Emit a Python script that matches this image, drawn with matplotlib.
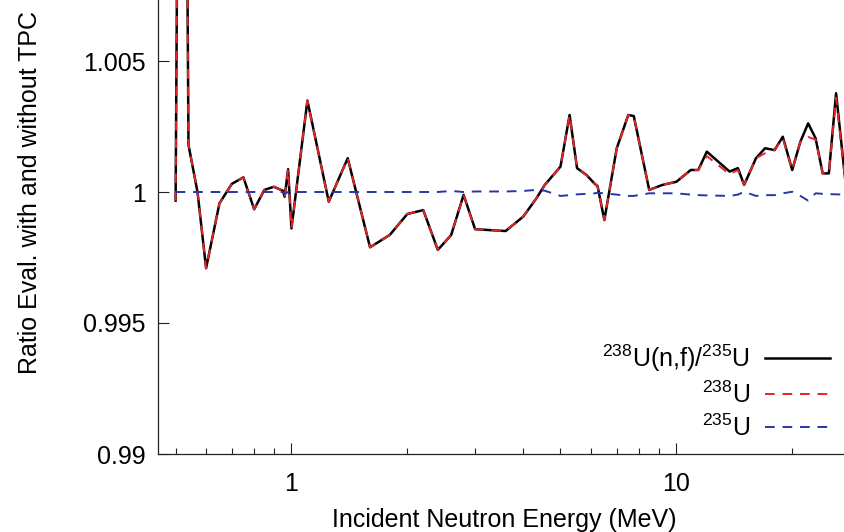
import numpy as np
import matplotlib
matplotlib.use("Agg")
import matplotlib.pyplot as plt
from matplotlib.ticker import LogLocator, FixedLocator, FixedFormatter, NullFormatter

plt.rcParams['font.family'] = ['Liberation Sans', 'DejaVu Sans']
plt.rcParams['mathtext.default'] = 'regular'

# incident neutron energy grid (MeV)
energy = [0.50, 0.52, 0.54, 0.57, 0.60, 0.65, 0.70, 0.75, 0.80, 0.85,
          0.90, 0.95, 0.96, 0.98, 1.0, 1.1, 1.25, 1.4, 1.6, 1.8,
          2.0, 2.2, 2.4, 2.6, 2.8, 3.0, 3.6, 4.0, 4.33, 4.55,
          5.0, 5.28, 5.52, 5.84, 6.14, 6.24, 6.5, 7.0, 7.5, 7.75,
          8.5, 9.2, 10.0, 10.9, 11.4, 12.0, 13.75, 14.45, 15.0, 16.1,
          17.0, 18.0, 18.9, 20.0, 21.0, 22.0, 23.0, 24.0, 24.9, 26.0,
          28.0]

# 238U(n,f)/235U ratio
ratio = [0.99967, 1.04, 1.00180, 1.00000, 0.99709, 0.99957, 1.00031, 1.00056, 0.99934, 1.00008,
         1.00020, 1.00005, 0.99982, 1.00087, 0.99861, 1.00349, 0.99963, 1.00129, 0.99789, 0.99836,
         0.99916, 0.99931, 0.99779, 0.99836, 0.99989, 0.99858, 0.99851, 0.99906, 0.99976, 1.00027,
         1.00097, 1.00294, 1.00091, 1.00065, 1.00031, 1.00023, 0.99893, 1.00167, 1.00294, 1.00290,
         1.00008, 1.00027, 1.00039, 1.00084, 1.00084, 1.00154, 1.00078, 1.00091, 1.00027, 1.00129,
         1.00167, 1.00160, 1.00211, 1.00084, 1.00192, 1.00262, 1.00205, 1.00071, 1.00071, 1.00377,
         0.99930]

# 238U
u238 = [0.99967, 1.04, 1.00180, 1.00000, 0.99709, 0.99957, 1.00031, 1.00056, 0.99934, 1.00008,
        1.00020, 1.00005, 0.99982, 1.00087, 0.99861, 1.00349, 0.99963, 1.00129, 0.99789, 0.99836,
        0.99916, 0.99931, 0.99779, 0.99836, 0.99989, 0.99858, 0.99851, 0.99906, 0.99976, 1.00027,
        1.00097, 1.00294, 1.00091, 1.00065, 1.00031, 1.00023, 0.99893, 1.00167, 1.00294, 1.00290,
        1.00008, 1.00027, 1.00039, 1.00084, 1.00084, 1.00137, 1.00068, 1.00084, 1.00027, 1.00129,
        1.00148, 1.00160, 1.00205, 1.00084, 1.00192, 1.00210, 1.00200, 1.00071, 1.00071, 1.00360,
        0.99930]

# 235U
u235 = [1.00000, 1.00000, 1.00000, 1.00000, 1.00000, 1.00000, 1.00000, 1.00000, 1.00000, 1.00000,
        1.00000, 1.00000, 0.99993, 1.00000, 1.00000, 1.00000, 1.00000, 1.00000, 1.00000, 1.00000,
        1.00000, 1.00000, 1.00000, 1.00004, 1.00000, 1.00002, 1.00002, 1.00004, 1.00008, 1.00005,
        0.99985, 0.99988, 0.99991, 0.99993, 0.99995, 0.99997, 0.99995, 0.99990, 0.99985, 0.99985,
        0.99995, 0.99995, 0.99995, 0.99990, 0.99988, 0.99987, 0.99985, 0.99990, 1.00001, 0.99985,
        0.99988, 0.99988, 0.99995, 1.00001, 0.99985, 0.99967, 0.99995, 0.99993, 0.99992, 0.99991,
        0.99990]

yticks = [0.99, 0.995, 1.0, 1.005]
ytick_labels = ['0.99', '0.995', '1', '1.005']

fig = plt.figure(figsize=(8.44, 5.32), dpi=100)
# axes run past the top and right edge, like the cropped original
ax = fig.add_axes([158 / 844, 78 / 532, 702 / 844, 524 / 532])

ax.plot(energy, ratio, color='black', lw=1.8, label='$^{238}$U(n,f)/$^{235}$U')
ax.plot(energy, u238, color='#e3262a', lw=1.4, dashes=(5, 4), label='$^{238}$U')
ax.plot(energy, u235, color='#2636a8', lw=1.4, dashes=(5, 4), label='$^{235}$U')

ax.set_xscale('log')
ax.set_xlim(0.45, 30)
ax.set_ylim(0.99, 1.01)

ax.xaxis.set_major_locator(FixedLocator([1, 10]))
ax.xaxis.set_major_formatter(FixedFormatter(['1', '10']))
ax.xaxis.set_minor_locator(LogLocator(base=10, subs=np.arange(2, 10)))
ax.xaxis.set_minor_formatter(NullFormatter())
ax.set_yticks(yticks)
ax.set_yticklabels(ytick_labels)

ax.tick_params(which='both', direction='in', top=True, right=True, width=0.8, colors='#222222', labelcolor='black')
ax.tick_params(which='major', length=8, labelsize=18)
ax.tick_params(which='minor', length=4.5)
ax.tick_params(axis='x', pad=13)
ax.tick_params(axis='y', pad=9)
for s in ax.spines.values():
    s.set_linewidth(0.9)
    s.set_color('#222222')

ax.set_xlabel('Incident Neutron Energy (MeV)', fontsize=18)
ax.set_ylabel('Ratio Eval. with and without TPC', fontsize=18)
ax.xaxis.set_label_coords((504 - 158) / 702, (454 - 508) / 524)
ax.yaxis.set_label_coords((42 - 158) / 702, 0.5)

ax.legend(loc='lower right', bbox_to_anchor=((830 - 158) / 702, (454 - 441) / 524),
          frameon=False, markerfirst=False, fontsize=18, handlelength=2.6,
          handletextpad=0.6, labelspacing=0.28, borderpad=0, borderaxespad=0)

fig.savefig('out.png', dpi=100)
